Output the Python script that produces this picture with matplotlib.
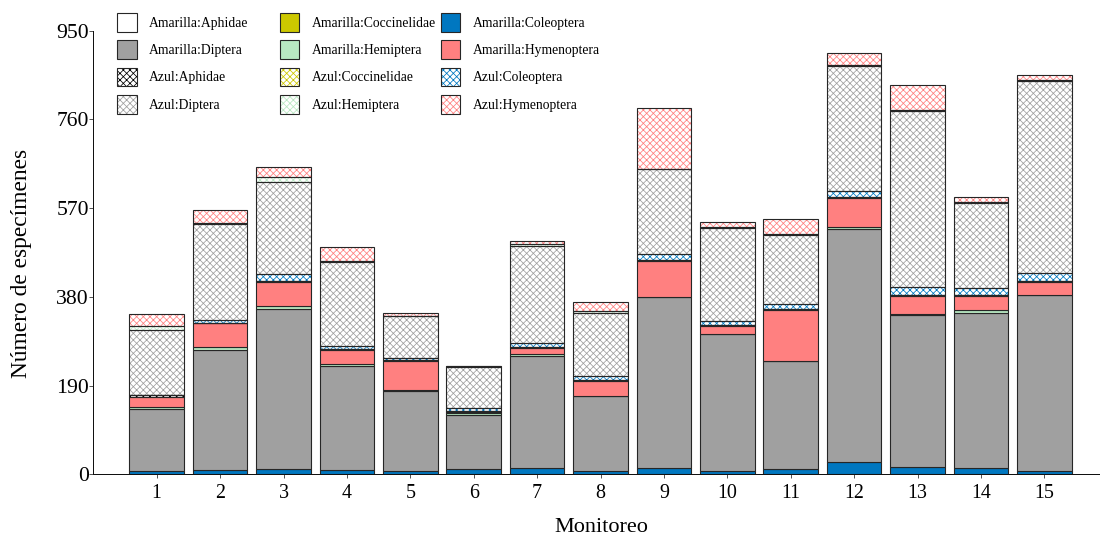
import matplotlib
matplotlib.use("Agg")
import matplotlib.pyplot as plt
from matplotlib.patches import Patch
import numpy as np

plt.rcParams["font.family"] = ["Liberation Serif", "DejaVu Serif"]
plt.rcParams["hatch.linewidth"] = 0.7

# Sampling rounds (x axis) and y-axis ticks
monitoreos = [str(i) for i in range(1, 16)]
y_ticks = [0, 190, 380, 570, 760, 950]

# Specimen counts per trap colour and insect group, rounds 1..15
amarilla_aphidae      = [1, 1, 1, 1, 1, 1, 1, 1, 1, 1, 1, 1, 1, 1, 1]
amarilla_coccinelidae = [0, 0, 0, 0, 0, 0, 0, 0, 0, 0, 0, 0, 0, 0, 0]
amarilla_coleoptera   = [5, 9, 10, 8, 6, 10, 13, 6, 12, 6, 10, 25, 14, 12, 5]
amarilla_diptera      = [134, 256, 343, 223, 172, 115, 240, 160, 366, 293, 231, 499, 327, 333, 378]
amarilla_hemiptera    = [5, 6, 6, 5, 1, 5, 4, 1, 1, 1, 1, 5, 1, 6, 1]
amarilla_hymenoptera  = [21, 51, 52, 30, 63, 3, 12, 32, 77, 17, 108, 62, 39, 30, 27]
azul_aphidae          = [3, 2, 2, 2, 1, 2, 3, 1, 2, 1, 3, 2, 2, 1, 3]
azul_coccinelidae     = [0, 0, 0, 0, 0, 0, 0, 0, 0, 0, 0, 0, 0, 0, 0]
azul_coleoptera       = [1, 5, 15, 5, 6, 7, 8, 9, 13, 10, 11, 12, 18, 15, 16]
azul_diptera          = [140, 205, 197, 181, 88, 86, 207, 136, 181, 198, 148, 268, 376, 183, 411]
azul_hemiptera        = [7, 4, 11, 2, 2, 2, 5, 4, 1, 2, 1, 2, 3, 2, 2]
azul_hymenoptera      = [27, 28, 22, 30, 5, 2, 7, 18, 130, 12, 33, 26, 52, 11, 11]

YELLOW = "#cdc800"
BLUE = "#0077c0"
GRAY = "#a0a0a0"
GREEN = "#b8e8c2"
RED = "#ff8080"
EDGE = "#262626"
HATCH = "xxxx"

# (label, values, fill colour, hatch colour) -- stacked bottom to top
series = [
    ("Amarilla:Aphidae", amarilla_aphidae, "#ffffff", None),
    ("Amarilla:Coccinelidae", amarilla_coccinelidae, YELLOW, None),
    ("Amarilla:Coleoptera", amarilla_coleoptera, BLUE, None),
    ("Amarilla:Diptera", amarilla_diptera, GRAY, None),
    ("Amarilla:Hemiptera", amarilla_hemiptera, GREEN, None),
    ("Amarilla:Hymenoptera", amarilla_hymenoptera, RED, None),
    ("Azul:Aphidae", azul_aphidae, None, "#000000"),
    ("Azul:Coccinelidae", azul_coccinelidae, None, YELLOW),
    ("Azul:Coleoptera", azul_coleoptera, None, BLUE),
    ("Azul:Diptera", azul_diptera, None, GRAY),
    ("Azul:Hemiptera", azul_hemiptera, None, GREEN),
    ("Azul:Hymenoptera", azul_hymenoptera, None, RED),
]

W, H, DPI = 1100, 538, 80
fig = plt.figure(figsize=(W / DPI, H / DPI), dpi=DPI)
ax = fig.add_axes([93.3 / W, 63.7 / H, 1014.4 / W, 443.6 / H])

x = np.arange(1, len(monitoreos) + 1)
bar_w = 0.86
bottom = np.zeros(len(x))
handles = []
for label, vals, fc, hc in series:
    vals = np.asarray(vals, dtype=float)
    if hc is None:
        ax.bar(x, vals, bar_w, bottom=bottom, color=fc, edgecolor=EDGE,
               linewidth=1.0, zorder=2)
        handles.append(Patch(facecolor=fc, edgecolor=EDGE, linewidth=1.0))
    else:
        ax.bar(x, vals, bar_w, bottom=bottom, color="white", edgecolor=hc,
               hatch=HATCH, linewidth=0, zorder=2)
        ax.bar(x, vals, bar_w, bottom=bottom, fill=False, edgecolor=EDGE,
               linewidth=1.0, zorder=3)
        handles.append((Patch(facecolor="white", edgecolor=hc, hatch=HATCH, linewidth=0),
                        Patch(fill=False, edgecolor=EDGE, linewidth=1.0)))
    bottom += vals

ax.set_xlim(0, 16)
ax.set_ylim(0, 950)
ax.set_xticks(x)
ax.set_xticklabels(monitoreos, fontsize=18)
ax.set_yticks(y_ticks)
ax.set_yticklabels([str(v) for v in y_ticks], fontsize=19.5)
ax.tick_params(axis="x", direction="out", length=3.6, width=0.9, color="#555555", pad=5)
ax.tick_params(axis="y", direction="out", length=3.6, width=0.9, color="#555555", pad=0.5)
for side in ("top", "right"):
    ax.spines[side].set_visible(False)
for side in ("left", "bottom"):
    ax.spines[side].set_linewidth(0.9)
    ax.spines[side].set_color("#111111")

fig.text(601 / W, 1 - 528 / H, "Monitoreo", fontsize=20, ha="center", va="center")
fig.text(22 / W, 1 - 263 / H, "Número de especímenes", fontsize=21,
         rotation=90, ha="center", va="center")

# three legend columns with fixed spacing
labels = [s[0] for s in series]
col_x = [117.3, 280.0, 441.0]
for c in range(3):
    idx = [c, c + 3, c + 6, c + 9]
    fig.legend([handles[i] for i in idx], [labels[i] for i in idx],
               loc="upper left", bbox_to_anchor=(col_x[c] / W, 1 - 13.0 / H),
               bbox_transform=fig.transFigure, frameon=False, fontsize=12.3,
               borderpad=0, borderaxespad=0, handlelength=1.41, handleheight=1.72,
               handletextpad=0.9, labelspacing=0.64)

fig.savefig("out.png", dpi=DPI)
